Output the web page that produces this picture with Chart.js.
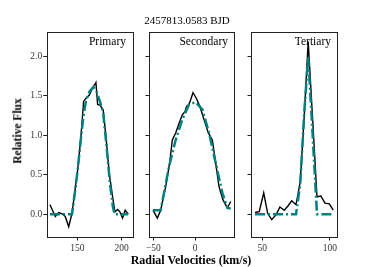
<!DOCTYPE html>
<html>
<head>
<meta charset="utf-8">
<script src="https://cdn.jsdelivr.net/npm/chart.js@4"></script>
<style>
body { margin: 0; background: #fff; }
#wrap { position: relative; width: 374px; height: 267px; overflow: hidden; font-family: "Liberation Serif", serif; color: #000; }
canvas { position: absolute; top: 0; }
.t { position: absolute; white-space: nowrap; line-height: 1; }
</style>
</head>
<body>
<div id="wrap">
  <canvas id="c1" width="140" height="267" style="left:0px"></canvas>
  <canvas id="c2" width="100" height="267" style="left:140px"></canvas>
  <canvas id="c3" width="134" height="267" style="left:240px"></canvas>
  <div class="t" style="left:0;width:374px;text-align:center;top:15px;font-size:11px">2457813.0583 BJD</div>
  <div class="t" style="right:248px;top:36px;font-size:11.5px">Primary</div>
  <div class="t" style="right:146px;top:36px;font-size:11.5px">Secondary</div>
  <div class="t" style="right:43px;top:36px;font-size:11.5px">Tertiary</div>
  <div class="t" style="left:18px;top:131px;font-size:11.5px;font-weight:bold;transform:translate(-50%,-50%) rotate(-90deg)">Relative Flux</div>
  <div class="t" style="left:191px;top:260px;font-size:12px;font-weight:bold;transform:translate(-50%,-50%)">Radial Velocities (km/s)</div>
</div>
<script>
const priVel = [119.2, 125.2, 129, 133.5, 136.4, 140.3, 144, 150.4, 154.1, 157.1, 159.8, 163.5, 167.3, 171, 172.9, 175.9, 179.2, 182.3, 186, 189.8, 192.4, 195.4, 198, 201, 204, 207.4];
const priFlux = [0.12, -0.03, 0.02, 0.00, -0.03, -0.16, 0.01, 0.56, 0.98, 1.43, 1.47, 1.51, 1.60, 1.67, 1.39, 1.38, 1.32, 0.98, 0.52, 0.22, 0.03, 0.06, 0.03, -0.05, 0.05, 0.00];
const priModelVel = [119.2, 144, 147, 150.4, 154, 157, 160, 164, 168, 171.5, 175.5, 179.2, 183, 186.7, 190, 192, 207.4];
const priModel = [0, 0, 0.25, 0.56, 0.95, 1.25, 1.45, 1.56, 1.61, 1.56, 1.43, 1.28, 0.86, 0.40, 0.10, 0, 0];

const secVel = [-50.4, -45.2, -41.2, -35.2, -30.4, -27.2, -23.2, -19.2, -15.2, -12, -10, -7.2, -5.2, -2.4, 1.6, 5.7, 10.8, 16, 20.8, 24.8, 28.8, 33.6, 38.8, 42.9];
const secFlux = [0.05, -0.05, 0.05, 0.35, 0.65, 0.94, 1.03, 1.15, 1.26, 1.30, 1.37, 1.39, 1.45, 1.54, 1.47, 1.37, 1.20, 1.03, 0.94, 0.65, 0.35, 0.18, 0.08, 0.16];
const secModelVel = [-50.4, -41.2, -31.2, -23.2, -15.2, -7.2, 0.8, 8.8, 16.8, 24.8, 32.8, 38.8, 42.9];
const secModel = [0.05, 0.05, 0.60, 0.94, 1.20, 1.39, 1.42, 1.33, 1.03, 0.65, 0.27, 0.08, 0.07];

const terVel = [44.6, 47.7, 51, 53.9, 56.9, 60.1, 63, 66.2, 69.2, 71.7, 74.9, 78, 81, 83.9, 87.2, 90.4, 93.3, 96.3, 99.5, 102.4];
const terFlux = [0.02, 0.03, 0.27, 0.01, -0.07, -0.01, 0.09, 0.05, 0.11, 0.17, 0.12, 0.41, 1.25, 2.19, 1.20, 0.22, 0.23, 0.14, 0.13, 0.05];
const terModel = [0, 0, 0, 0, 0, 0, 0, 0, 0, 0, 0, 0.38, 1.30, 1.99, 1.00, 0, 0, 0, 0, 0];

const yTicks = [0, 0.5, 1.0, 1.5, 2.0];
const priTicks = [150, 200];
const secTicks = [-50, 0];
const terTicks = [50, 100];

function pts(xs, ys) {
  return xs.map((x, i) => ({ x: x, y: ys[i] }));
}

// box around the plot area, like matplotlib spines
const frame = {
  id: 'frame',
  afterDatasetsDraw(chart) {
    const a = chart.chartArea;
    const ctx = chart.ctx;
    ctx.save();
    ctx.strokeStyle = '#222';
    ctx.lineWidth = 1;
    ctx.strokeRect(Math.round(a.left) + 0.5, Math.round(a.top) + 0.5, Math.round(a.right - a.left), Math.round(a.bottom - a.top));
    ctx.restore();
  }
};

function panel(id, vel, flux, mVel, model, xMin, xMax, xTicks, yLabels, yWidth, padRight) {
  new Chart(document.getElementById(id), {
    type: 'line',
    data: {
      datasets: [
        { data: pts(mVel, model), borderColor: '#008080', borderWidth: 2.5, borderDash: [10, 3, 2, 3], pointRadius: 0, tension: 0, fill: false },
        { data: pts(vel, flux), borderColor: '#000', borderWidth: 1.4, pointRadius: 0, tension: 0, fill: false }
      ]
    },
    options: {
      responsive: false,
      animation: false,
      layout: { padding: { top: 32, right: padRight, left: 0, bottom: 0 } },
      plugins: { legend: { display: false }, tooltip: { enabled: false } },
      scales: {
        x: {
          type: 'linear', min: xMin, max: xMax,
          border: { display: false },
          grid: { drawOnChartArea: false, drawTicks: true, tickLength: 3.5, color: '#222' },
          afterBuildTicks: s => { s.ticks = xTicks.map(v => ({ value: v })); },
          ticks: {
            padding: 2, color: '#333', maxRotation: 0,
            font: { family: 'Liberation Serif', size: 9.5 },
            callback: v => String(v).replace('-', '\u2212')
          },
          afterFit: s => { s.height = 30; }
        },
        y: {
          min: -0.29, max: 2.31,
          border: { display: false },
          grid: { drawOnChartArea: false, drawTicks: true, tickLength: 3.5, color: '#222' },
          afterBuildTicks: s => { s.ticks = yTicks.map(v => ({ value: v })); },
          ticks: {
            padding: 1, color: '#333',
            font: { family: 'Liberation Serif', size: 9.5 },
            callback: v => yLabels ? v.toFixed(1) : ''
          },
          afterFit: s => { s.width = yWidth; }
        }
      }
    },
    plugins: [frame]
  });
}

panel('c1', priVel, priFlux, priModelVel, priModel, 115.5, 212, priTicks, true, 46.7, 7.7);
panel('c2', secVel, secFlux, secModelVel, secModel, -55.2, 46.8, secTicks, false, 9, 6);
panel('c3', terVel, terFlux, terVel, terModel, 41.6, 105.2, terTicks, false, 11, 37);
</script>
</body>
</html>
